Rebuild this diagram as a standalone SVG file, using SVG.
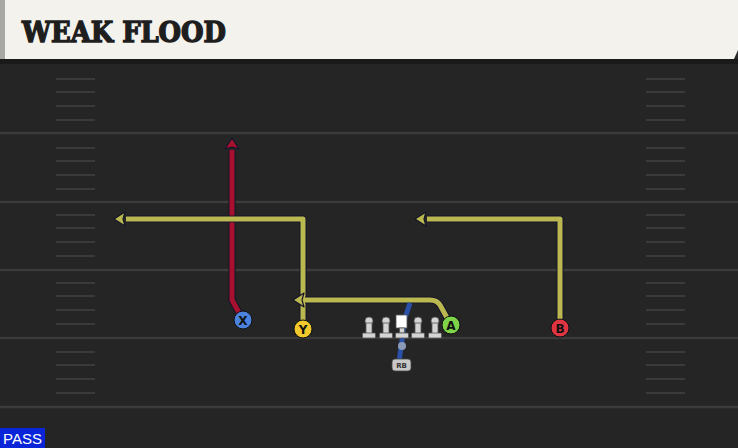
<svg xmlns="http://www.w3.org/2000/svg" width="738" height="448" viewBox="0 0 738 448">
<style>
.yl{stroke:#3b3b3b;stroke-width:2.5}
.hs{stroke:#3a3a3a;stroke-width:2}
.out{fill:none;stroke:#15152a;stroke-width:7;stroke-linejoin:round}
.rt{fill:none;stroke-width:5;stroke-linejoin:round}
.ah{stroke:#15152a;stroke-width:1.2;stroke-linejoin:round}
.lbl{font-family:"DejaVu Sans","Liberation Sans",sans-serif;font-weight:bold;font-size:12px;text-anchor:middle;fill:#111}
.ol{fill:#d4d4d4;stroke:#555;stroke-width:0.8}
</style>
<defs>
<g id="hashes">
<line x1="0" y1="0" x2="39" y2="0"/>
<line x1="0" y1="13" x2="39" y2="13"/>
<line x1="0" y1="27" x2="39" y2="27"/>
<line x1="0" y1="41" x2="39" y2="41"/>
</g>
<g id="lineman">
<circle cx="0" cy="-9" r="4"/>
<rect x="-3" y="-7" width="6" height="11"/>
<rect x="-6.5" y="3" width="13" height="5" rx="1"/>
</g>
</defs>
<rect width="738" height="448" fill="#252525"/>
<rect x="0" y="58" width="738" height="6" fill="#1a1a1a"/>
<g class="yl">
<line x1="0" y1="133" x2="738" y2="133"/>
<line x1="0" y1="202" x2="738" y2="202"/>
<line x1="0" y1="270" x2="738" y2="270"/>
<line x1="0" y1="338" x2="738" y2="338"/>
<line x1="0" y1="407" x2="738" y2="407"/>
</g>
<g class="hs">
<use href="#hashes" x="56" y="79"/>
<use href="#hashes" x="56" y="148"/>
<use href="#hashes" x="56" y="215"/>
<use href="#hashes" x="56" y="283"/>
<use href="#hashes" x="56" y="352"/>
<use href="#hashes" x="646" y="79"/>
<use href="#hashes" x="646" y="148"/>
<use href="#hashes" x="646" y="215"/>
<use href="#hashes" x="646" y="283"/>
<use href="#hashes" x="646" y="352"/>
</g>
<g id="header">
<rect x="0" y="0" width="738" height="59" fill="#f4f2ec"/>
<rect x="0" y="0" width="5" height="59" fill="#a8a8a4"/>
<polygon points="738,50 738,59 734,59" fill="#2a2a2a"/>
<text x="22" y="42" font-family="'DejaVu Serif','Liberation Serif',serif" font-weight="900" font-size="27" fill="#1e1e1e" textLength="204" lengthAdjust="spacingAndGlyphs" stroke="#1e1e1e" stroke-width="1.4">WEAK FLOOD</text>
</g>
<g id="connectors">
<path class="out" d="M243,320 L232,300 L232,150"/>
<path class="rt" stroke="#a81030" d="M243,320 L232,300 L232,150"/>
<polygon class="ah" points="232,138 239,149 232,147 225,149" fill="#a81030"/>
<path class="out" d="M303,329 L303,219 L126,219"/>
<path class="rt" stroke="#bab84e" d="M303,329 L303,219 L126,219"/>
<polygon class="ah" points="114,219 125,212 123,219 125,226" fill="#bab84e"/>
<path class="out" d="M451,325 L440,305 Q437,300 430,300 L305,300"/>
<path class="rt" stroke="#bab84e" d="M451,325 L440,305 Q437,300 430,300 L305,300"/>
<polygon class="ah" points="293,300 304,293 302,300 304,307" fill="#bab84e"/>
<path class="out" d="M560,328 L560,219 L427,219"/>
<path class="rt" stroke="#bab84e" d="M560,328 L560,219 L427,219"/>
<polygon class="ah" points="415,219 426,212 424,219 426,226" fill="#bab84e"/>
<path d="M399,362 L405,318 L410,303" fill="none" stroke="#2a50a8" stroke-width="5" stroke-linejoin="round"/>
</g>
<g id="line">
<use href="#lineman" x="369" y="330" class="ol"/>
<use href="#lineman" x="386" y="330" class="ol"/>
<use href="#lineman" x="418" y="330" class="ol"/>
<use href="#lineman" x="435" y="330" class="ol"/>
<g id="center">
<rect x="396" y="315" width="11" height="13" fill="#ffffff" stroke="#555" stroke-width="0.8"/>
<rect x="399.5" y="328" width="5" height="5" fill="#d4d4d4" stroke="#555" stroke-width="0.8"/>
<rect x="395.5" y="333" width="13" height="5" rx="1" fill="#d4d4d4" stroke="#555" stroke-width="0.8"/>
</g>
</g>
<g id="qb"><circle cx="402" cy="346" r="4" fill="#8a9ab8"/></g>
<g id="rb">
<rect x="392" y="359" width="19" height="12" rx="3" fill="#c8c8c8" stroke="#444" stroke-width="0.8"/>
<text x="401.5" y="368" font-family="'DejaVu Sans','Liberation Sans',sans-serif" font-size="7" font-weight="bold" text-anchor="middle" fill="#333">RB</text>
</g>
<g id="X"><circle cx="243" cy="320" r="9" fill="#4a82dc" stroke="#111" stroke-width="1"/><text class="lbl" x="243" y="324.5">X</text></g>
<g id="Y"><circle cx="303" cy="329" r="9" fill="#f2c92c" stroke="#111" stroke-width="1"/><text class="lbl" x="303" y="333.5">Y</text></g>
<g id="A"><circle cx="451" cy="325" r="9" fill="#7ed348" stroke="#111" stroke-width="1"/><text class="lbl" x="451" y="329.5">A</text></g>
<g id="B"><circle cx="560" cy="328" r="9" fill="#e03540" stroke="#111" stroke-width="1"/><text class="lbl" x="560" y="332.5">B</text></g>
<g id="pass">
<rect x="0" y="428" width="45" height="20" fill="#0a24d8"/>
<text x="22.5" y="444" font-family="'Liberation Sans','DejaVu Sans',sans-serif" font-size="15" text-anchor="middle" fill="#ffffff" textLength="39" lengthAdjust="spacingAndGlyphs">PASS</text>
</g>
</svg>
